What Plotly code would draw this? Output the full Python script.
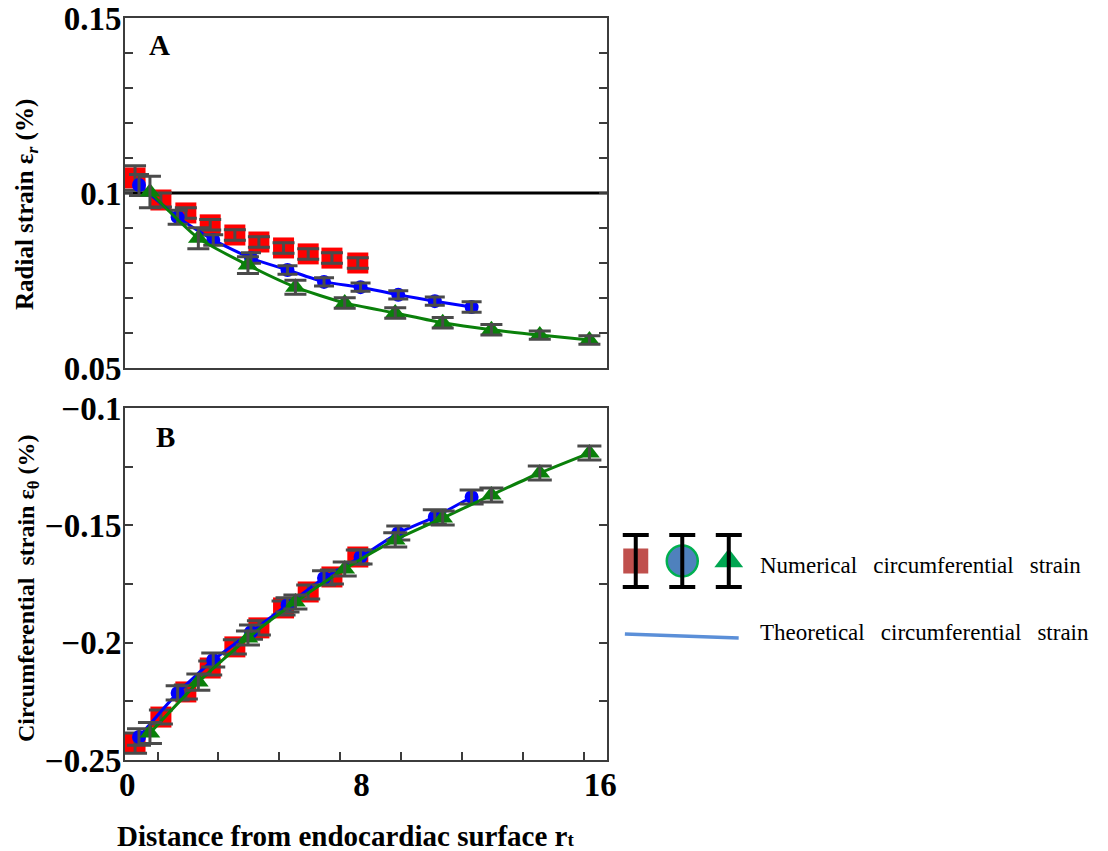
import plotly.graph_objects as go

# ---- data -------------------------------------------------------------
# distance from endocardiac surface for the three meshes
red_x = [0.26, 1.11, 1.93, 2.73, 3.54, 4.33, 5.14, 5.95, 6.73, 7.58]
blue_x = [0.39, 1.66, 2.83, 4.07, 5.27, 6.47, 7.67, 8.91, 10.11, 11.32]
green_x = [0.75, 2.34, 3.97, 5.53, 7.15, 8.81, 10.37, 11.97, 13.56, 15.19]

# panel A: radial strain
red_radial = [0.1043, 0.0980, 0.0943, 0.0909, 0.0880, 0.0860, 0.0843, 0.0826, 0.0814, 0.0800]
blue_radial = [0.1023, 0.0931, 0.0866, 0.0814, 0.0780, 0.0746, 0.0731, 0.0709, 0.0691, 0.0674]
green_radial = [0.1003, 0.0871, 0.0794, 0.0731, 0.0686, 0.0657, 0.0629, 0.0609, 0.0594, 0.0580]
red_radial_err = [0.0035, 0.002, 0.0015, 0.0015, 0.0015, 0.0015, 0.0015, 0.0015, 0.0015, 0.0015]
blue_radial_err = [0.003, 0.002, 0.0015, 0.0015, 0.0012, 0.0012, 0.0012, 0.0012, 0.0012, 0.0015]
green_radial_err = [0.0045, 0.003, 0.0024, 0.002, 0.0015, 0.0015, 0.0015, 0.0015, 0.0012, 0.0012]
reference_radial = 0.1

# panel B: circumferential strain
red_circ = [-0.2428, -0.2317, -0.2210, -0.2108, -0.2018, -0.1937, -0.1852, -0.1784, -0.1720, -0.1635]
blue_circ = [-0.2402, -0.2214, -0.2074, -0.1955, -0.1839, -0.1724, -0.1635, -0.1533, -0.1464, -0.1379]
green_circ = [-0.2385, -0.2168, -0.1980, -0.1827, -0.1686, -0.1562, -0.1469, -0.1371, -0.1277, -0.1192]
red_circ_err = [0.0043, 0.003, 0.003, 0.003, 0.003, 0.003, 0.003, 0.003, 0.003, 0.003]
blue_circ_err = [0.0035, 0.003, 0.003, 0.003, 0.003, 0.003, 0.003, 0.003, 0.003, 0.003]
green_circ_err = [0.0045, 0.0035, 0.003, 0.003, 0.003, 0.003, 0.003, 0.003, 0.003, 0.003]

# axis labelling
x_label_pos = [0.0, 7.7, 15.55]
x_label_text = ["0", "8", "16"]
x_minor_ticks = [1, 3, 5, 7, 9, 11, 13, 15]
a_ticks = [0.05, 0.1, 0.15]
b_ticks = [-0.25, -0.2, -0.15, -0.1]

legend_labels = ["Numerical\u00a0\u00a0\u2009circumferential\u00a0\u00a0\u2009strain",
                 "Theoretical\u00a0\u00a0\u2009circumferential\u00a0\u00a0\u2009strain"]

# ---- styling ----------------------------------------------------------
SERIF = "Liberation Serif, Times New Roman, serif"
RED, BLUE, GREEN, ERR = "#ff0000", "#0000ff", "#0a800a", "#4a4a4a"
FRAME = "#3c3c3c"

fig = go.Figure()


def add_series(x, y, err, color, symbol, size, cap, line, xa, ya):
    mode = "lines+markers" if line else "markers"
    fig.add_trace(go.Scatter(
        x=x, y=y, mode=mode, xaxis=xa, yaxis=ya, showlegend=False,
        line=dict(color=color, width=3, shape="spline", smoothing=0.6),
        marker=dict(color=color, symbol=symbol, size=size, line=dict(width=0)),
    ))
    # error bars drawn above the markers
    fig.add_trace(go.Scatter(
        x=x, y=y, mode="markers", xaxis=xa, yaxis=ya, showlegend=False,
        marker=dict(color="rgba(0,0,0,0)", size=1),
        error_y=dict(type="data", array=err, color=ERR, thickness=3, width=cap),
    ))


# panel A
fig.add_trace(go.Scatter(x=[-0.07, 15.77], y=[reference_radial] * 2, mode="lines",
                         xaxis="x", yaxis="y", showlegend=False,
                         line=dict(color="black", width=3)))
add_series(red_x, red_radial, red_radial_err, RED, "square", 21, 11, False, "x", "y")
add_series(blue_x, blue_radial, blue_radial_err, BLUE, "circle", 14, 10, True, "x", "y")
add_series(green_x, green_radial, green_radial_err, GREEN, "triangle-up", 18, 11, True, "x", "y")

# panel B
add_series(red_x, red_circ, red_circ_err, RED, "square", 21, 12, False, "x2", "y2")
add_series(blue_x, blue_circ, blue_circ_err, BLUE, "circle", 14, 12, True, "x2", "y2")
add_series(green_x, green_circ, green_circ_err, GREEN, "triangle-up", 18, 12, True, "x2", "y2")

# legend glyphs
leg_colors = ["#c0504d", "#4f81bd", "#00a651"]
leg_symbols = ["square", "circle", "triangle-up"]
leg_sizes = [25, 31, 25]
leg_lines = [0, 2.5, 0]
for i in range(3):
    fig.add_trace(go.Scatter(
        x=[i], y=[0], mode="markers", xaxis="x3", yaxis="y3", showlegend=False,
        marker=dict(color=leg_colors[i], symbol=leg_symbols[i], size=leg_sizes[i],
                    line=dict(color="#00b050", width=leg_lines[i])),
    ))
    fig.add_trace(go.Scatter(
        x=[i], y=[0], mode="markers", xaxis="x3", yaxis="y3", showlegend=False,
        marker=dict(color="rgba(0,0,0,0)", size=1),
        error_y=dict(type="data", array=[1], color="black", thickness=4, width=13),
    ))
fig.add_trace(go.Scatter(x=[-0.234, 2.213], y=[-2.81, -2.96], mode="lines",
                         xaxis="x3", yaxis="y3", showlegend=False,
                         line=dict(color="#5b8fd8", width=3.5)))

XDOM = [0, 487 / 983]
tickfont = dict(family=SERIF, size=33, color="black", weight="bold")
common_x = dict(range=[-0.07, 15.77], domain=XDOM, showgrid=False, zeroline=False,
                showline=True, linecolor=FRAME, linewidth=2, mirror=True)
common_y = dict(showgrid=False, zeroline=False, showline=True, linecolor=FRAME,
                linewidth=2, mirror="ticks", ticks="inside", ticklen=8,
                tickcolor=FRAME, tickwidth=2, tickfont=tickfont, ticklabelstandoff=-5)

fig.update_layout(
    width=1108, height=851,
    margin=dict(l=125, r=0, t=18, b=91),
    paper_bgcolor="white", plot_bgcolor="white",
    xaxis=dict(**common_x, anchor="y", showticklabels=False, ticks=""),
    yaxis=dict(**common_y, domain=[392 / 742, 1], range=[0.05, 0.15],
               tickvals=a_ticks, ticktext=["0.05", "0.1", "0.15"],
               minor=dict(dtick=0.01, tick0=0.05, ticks="inside", ticklen=8,
                          tickcolor=FRAME, tickwidth=2)),
    xaxis2=dict(**common_x, anchor="y2", ticks="inside", ticklen=0,
                tickvals=x_label_pos, ticktext=x_label_text, tickfont=tickfont,
                ticklabelstandoff=-6,
                minor=dict(tickvals=x_minor_ticks, ticks="inside", ticklen=8,
                           tickcolor=FRAME, tickwidth=2)),
    yaxis2=dict(**common_y, domain=[0, 352 / 742], range=[-0.25, -0.1],
                tickvals=b_ticks,
                minor=dict(dtick=0.025, tick0=-0.25, ticks="inside", ticklen=8,
                           tickcolor=FRAME, tickwidth=2)),
    xaxis3=dict(domain=[495 / 983, 630 / 983], range=[-0.447, 2.426], anchor="y3",
                visible=False),
    yaxis3=dict(domain=[110 / 742, 240 / 742], range=[-3.423, 1.577], anchor="x3",
                visible=False),
)

annots = [
    dict(text="A", x=160, y=45),
    dict(text="B", x=166, y=437),
]
for a in annots:
    fig.add_annotation(text=a["text"], xref="paper", yref="paper",
                       x=(a["x"] - 125) / 983, y=(760 - a["y"]) / 742,
                       showarrow=False, xanchor="center", yanchor="middle",
                       font=dict(family=SERIF, size=29, color="black", weight="bold"))

# axis titles
fig.add_annotation(text="Distance from endocardiac surface r<span style='font-size:19px'>t</span>",
                   xref="paper", yref="paper", x=(348 - 125) / 983, y=(760 - 836) / 742,
                   showarrow=False, xanchor="center", yanchor="middle",
                   font=dict(family=SERIF, size=29, color="black", weight="bold"))
fig.add_annotation(text="Radial strain \u03b5<sub><i>r</i></sub> (%)",
                   xref="paper", yref="paper", x=(25 - 125) / 983, y=(760 - 205) / 742,
                   showarrow=False, xanchor="center", yanchor="middle", textangle=-90,
                   font=dict(family=SERIF, size=25, color="black", weight="bold"))
fig.add_annotation(text="Circumferential\u00a0\u00a0strain \u03b5<sub>\u03b8</sub> (%)",
                   xref="paper", yref="paper", x=(27 - 125) / 983, y=(760 - 588) / 742,
                   showarrow=False, xanchor="center", yanchor="middle", textangle=-90,
                   font=dict(family=SERIF, size=24, color="black", weight="bold"))

# legend text
for txt, yy in zip(legend_labels, [565, 632]):
    fig.add_annotation(text=txt, xref="paper", yref="paper",
                       x=(765 - 125) / 983, y=(760 - yy) / 742,
                       showarrow=False, xanchor="left", yanchor="middle",
                       font=dict(family=SERIF, size=23, color="black"))

fig.write_html("out.html")
